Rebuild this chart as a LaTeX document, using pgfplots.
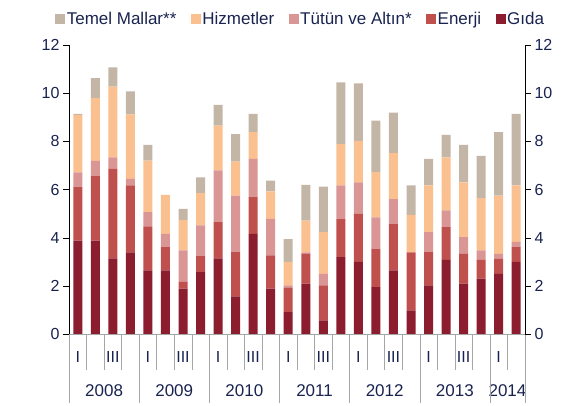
\documentclass[border=0pt]{standalone}
\usepackage{pgfplots}
\pgfplotsset{compat=1.18}
\usepackage{pgfplotstable}
\usepackage{fontspec}
\setmainfont{Liberation Sans}
\definecolor{cG}{RGB}{140,29,47}
\definecolor{cE}{RGB}{192,80,77}
\definecolor{cT}{RGB}{218,150,148}
\definecolor{cH}{RGB}{250,192,144}
\definecolor{cM}{RGB}{196,182,166}
\definecolor{navy}{RGB}{25,35,80}
\newcommand\legsize{\fontsize{17}{20}\selectfont}
\newcommand\ticksize{\fontsize{16}{19}\selectfont}
\pgfplotstableread{
x G E T H M
0 3.88 2.22 0.61 2.39 0.04
1 3.88 2.70 0.61 2.60 0.83
2 3.14 3.72 0.47 2.94 0.80
3 3.39 2.78 0.27 2.68 0.95
4 2.64 1.83 0.59 2.14 0.65
5 2.64 0.97 0.55 1.62 0.00
6 1.88 0.28 1.31 1.27 0.46
7 2.57 0.68 1.26 1.34 0.65
8 3.14 1.51 2.14 1.86 0.86
9 1.56 1.84 2.35 1.41 1.14
10 4.16 1.52 1.59 1.11 0.76
11 1.88 1.38 1.52 1.14 0.45
12 0.91 1.00 0.11 0.97 0.95
13 2.09 1.24 0.06 1.32 1.48
14 0.57 1.45 0.48 1.73 1.89
15 3.19 1.58 1.40 1.71 2.57
16 2.99 2.00 1.31 1.72 2.39
17 1.95 1.59 1.30 1.88 2.14
18 2.64 1.94 1.02 1.91 1.68
19 0.98 2.41 0.00 1.56 1.22
20 2.02 1.38 0.83 1.94 1.10
21 3.08 1.36 0.69 2.20 0.94
22 2.09 1.24 0.69 2.28 1.55
23 2.30 0.78 0.39 2.17 1.76
24 2.50 0.62 0.21 2.42 2.63
25 2.99 0.62 0.21 2.35 2.97
}\data
\begin{document}
\begin{tikzpicture}
\begin{axis}[
  at={(69pt,72pt)}, anchor=south west,
  scale only axis, width=456pt, height=289pt,
  xmin=-0.5, xmax=25.5, ymin=0, ymax=12,
  ybar stacked, bar width=9pt,
  axis y line*=left, axis x line*=bottom,
  axis line style={-},
  x axis line style={gray!70},
  y axis line style={black},
  xtick=\empty,
  ytick={0,2,...,12},
  tick align=outside, major tick length=6pt,
  y tick style={black},
  /pgf/number format/assume math mode=true,
  yticklabel style={font=\ticksize, text=navy},
  clip=false,
  reverse legend,
  legend columns=-1,
  legend image code/.code={\fill[#1] (0pt,-5pt) rectangle (10pt,5pt);},
  legend style={draw=none, fill=none, at={(1.052,1.09)}, anchor=east,
    font=\legsize, text=navy, nodes={inner xsep=1.5pt},
    /tikz/every even column/.append style={column sep=13pt}},
]
\addplot[fill=cG, draw=none] table[x=x,y=G]{\data};
\addplot[fill=cE, draw=none] table[x=x,y=E]{\data};
\addplot[fill=cT, draw=none] table[x=x,y=T]{\data};
\addplot[fill=cH, draw=none] table[x=x,y=H]{\data};
\addplot[fill=cM, draw=none] table[x=x,y=M]{\data};
\legend{Gıda,Enerji,Tütün ve Altın*,Hizmetler,Temel Mallar**}
\pgfplotsinvokeforeach{0.5,1.5,2.5,4.5,5.5,6.5,8.5,9.5,10.5,12.5,13.5,14.5,16.5,17.5,18.5,20.5,21.5,22.5,24.5}{
  \draw[gray!70] (axis cs:#1,0) -- ++(0pt,-36pt);
}
\pgfplotsinvokeforeach{-0.5,3.5,7.5,11.5,15.5,19.5,23.5,25.5}{
  \draw[gray!70] (axis cs:#1,0) -- ++(0pt,-69pt);
}
\pgfplotsinvokeforeach{0,4,8,12,16,20,24}{
  \node[font=\ticksize, text=navy] at (axis cs:#1,0) [yshift=-23pt] {I};
}
\pgfplotsinvokeforeach{2,6,10,14,18,22}{
  \node[font=\ticksize, text=navy] at (axis cs:#1,0) [yshift=-23pt] {III};
}
\node[font=\legsize, text=navy] at (axis cs:1.5,0) [yshift=-57pt] {2008};
\node[font=\legsize, text=navy] at (axis cs:5.5,0) [yshift=-57pt] {2009};
\node[font=\legsize, text=navy] at (axis cs:9.5,0) [yshift=-57pt] {2010};
\node[font=\legsize, text=navy] at (axis cs:13.5,0) [yshift=-57pt] {2011};
\node[font=\legsize, text=navy] at (axis cs:17.5,0) [yshift=-57pt] {2012};
\node[font=\legsize, text=navy] at (axis cs:21.5,0) [yshift=-57pt] {2013};
\node[font=\legsize, text=navy] at (axis cs:24.5,0) [yshift=-57pt] {2014};
\end{axis}
\begin{axis}[
  at={(69pt,72pt)}, anchor=south west,
  scale only axis, width=456pt, height=289pt,
  xmin=-0.5, xmax=25.5, ymin=0, ymax=12,
  axis y line*=right, axis x line=none,
  axis line style={-, black},
  xtick=\empty,
  ytick={0,2,...,12},
  tick align=outside, major tick length=6pt,
  y tick style={black},
  /pgf/number format/assume math mode=true,
  yticklabel style={font=\ticksize, text=navy},
]
\end{axis}
\pgfresetboundingbox
\useasboundingbox (0,0) rectangle (567pt,406pt);
\end{tikzpicture}
\end{document}
